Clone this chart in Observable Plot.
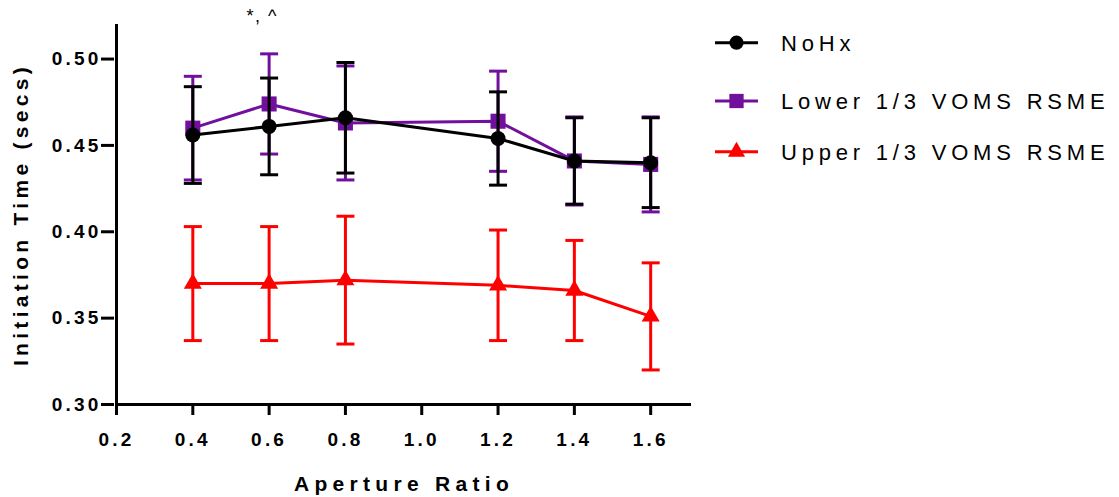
<!DOCTYPE html>
<html><head><meta charset="utf-8">
<script src="https://cdn.jsdelivr.net/npm/d3@7"></script>
<script src="https://cdn.jsdelivr.net/npm/@observablehq/plot@0.6"></script>
<style>
html,body{margin:0;padding:0;background:#fff;}
#wrap{position:relative;width:1119px;height:497px;font-family:"Liberation Sans",Arial,sans-serif;}
#wrap svg{position:absolute;left:0;top:0;overflow:visible;}
</style></head><body><div id="wrap"></div>
<script>
// ---- data ----
const apertureRatio = [0.4, 0.6, 0.8, 1.2, 1.4, 1.6];
const seriesNames = ["NoHx", "Lower 1/3 VOMS RSME", "Upper 1/3 VOMS RSME"];
const noHxMean = [0.456, 0.461, 0.466, 0.454, 0.441, 0.440];
const noHxErr = [0.028, 0.028, 0.032, 0.027, 0.025, 0.026];
const lowerMean = [0.460, 0.474, 0.463, 0.464, 0.441, 0.439];
const lowerErr = [0.030, 0.029, 0.033, 0.029, 0.0255, 0.0275];
const upperMean = [0.370, 0.370, 0.372, 0.369, 0.366, 0.351];
const upperErr = [0.033, 0.033, 0.037, 0.032, 0.029, 0.031];
const xTicks = [0.2, 0.4, 0.6, 0.8, 1.0, 1.2, 1.4, 1.6];
const yTicks = [0.30, 0.35, 0.40, 0.45, 0.50];
const xLabel = "Aperture Ratio";
const yLabel = "Initiation Time (secs)";
const annotations = [{x: 0.6, text: "*, ^"}];

const seriesColors = ["#000000", "#72109e", "#ff0000"];
const seriesSymbols = ["circle", "square", "triangle"];
const seriesR = [7.5, 8.5, 6.7];
const means = [noHxMean, lowerMean, upperMean];
const errs = [noHxErr, lowerErr, upperErr];

const tables = seriesNames.map((name, s) => apertureRatio.map((x, i) => ({
  series: name, x, mean: means[s][i], lo: means[s][i] - errs[s][i], hi: means[s][i] + errs[s][i]
})));

const capSymbol = {
  draw(context, size) {
    const w = Math.sqrt(size / Math.PI);
    context.moveTo(-w, 0);
    context.lineTo(w, 0);
  }
};

function seriesMarks(s) {
  const d = tables[s], c = seriesColors[s];
  return [
    Plot.ruleX(d, {x: "x", y1: "lo", y2: "hi", stroke: c, strokeWidth: 3}),
    Plot.dot(d, {x: "x", y: "hi", symbol: capSymbol, r: 9, stroke: c, strokeWidth: 3, fill: "none"}),
    Plot.dot(d, {x: "x", y: "lo", symbol: capSymbol, r: 9, stroke: c, strokeWidth: 3, fill: "none"}),
    Plot.line(d, {x: "x", y: "mean", stroke: c, strokeWidth: 3}),
    Plot.dot(d, {x: "x", y: "mean", symbol: seriesSymbols[s], r: seriesR[s], fill: c, stroke: "none"})
  ];
}

const chart = Plot.plot({
  width: 1119,
  height: 497,
  marginLeft: 116,
  marginRight: 428,
  marginTop: 24,
  marginBottom: 93,
  style: {fontFamily: '"Liberation Sans", Arial, sans-serif', background: "transparent", color: "#000"},
  x: {domain: [0.2, 1.707]},
  y: {domain: [0.30, 0.52]},
  marks: [
    ...seriesMarks(2),
    ...seriesMarks(1),
    ...seriesMarks(0),
    Plot.ruleX([xTicks[0]], {strokeWidth: 3, stroke: "#000"}),
    Plot.ruleY([yTicks[0]], {strokeWidth: 3, stroke: "#000"}),
    Plot.axisX({ticks: xTicks, tickFormat: d3.format(".1f"), tickSize: 11, tickPadding: 17, strokeWidth: 3, label: null}),
    Plot.axisY({ticks: yTicks, tickFormat: d3.format(".2f"), tickSize: 13, tickPadding: 0, dx: -2, strokeWidth: 3, label: null}),
    Plot.text([xLabel], {frameAnchor: "bottom", textAnchor: "middle", lineAnchor: "middle", dy: 80}),
    Plot.text([yLabel], {frameAnchor: "left", textAnchor: "middle", lineAnchor: "middle", rotate: -90, dx: -95}),
    Plot.text(annotations, {x: "x", text: "text", frameAnchor: "top", textAnchor: "middle", lineAnchor: "middle", dy: -8, dx: -7})
  ]
});

const wrap = document.getElementById("wrap");
wrap.appendChild(chart);
const svg = d3.select(chart);
const xTickSet = new Set(xTicks.map(d3.format(".1f")));
const yTickSet = new Set(yTicks.map(d3.format(".2f")));
svg.selectAll("text").each(function() {
  const t = this.textContent, el = d3.select(this);
  if (t === xLabel) {
    el.style("font-size", "21px").style("font-weight", "bold").style("letter-spacing", "5.3px");
  } else if (t === yLabel) {
    el.style("font-size", "21px").style("font-weight", "bold").style("letter-spacing", "4.3px");
  } else if (t === annotations[0].text) {
    el.style("font-size", "18px").style("letter-spacing", "1.5px");
  } else if (xTickSet.has(t) || yTickSet.has(t)) {
    el.style("font-size", "19px").style("font-weight", "bold").style("letter-spacing", "3.2px");
  }
});

// ---- legend ----
const legend = d3.select(wrap).append("svg").attr("width", 1119).attr("height", 497).style("pointer-events", "none");
const legendY = [42.7, 101, 151.7];
const symTypes = {circle: d3.symbolCircle, square: d3.symbolSquare, triangle: d3.symbolTriangle};
seriesNames.forEach((name, s) => {
  const g = legend.append("g").attr("transform", `translate(0,${legendY[s]})`);
  g.append("line").attr("x1", 715).attr("x2", 758).attr("y1", 0).attr("y2", 0)
    .attr("stroke", seriesColors[s]).attr("stroke-width", 3);
  g.append("path").attr("transform", "translate(736.5,0)")
    .attr("d", d3.symbol(symTypes[seriesSymbols[s]], Math.PI * seriesR[s] * seriesR[s] * 0.9)())
    .attr("fill", seriesColors[s]);
  g.append("text").attr("x", 781).attr("y", 8).text(name)
    .attr("font-size", 22).attr("fill", "#000")
    .style("letter-spacing", "4.8px")
    .attr("font-family", '"Liberation Sans", Arial, sans-serif');
});
</script>
</body></html>
